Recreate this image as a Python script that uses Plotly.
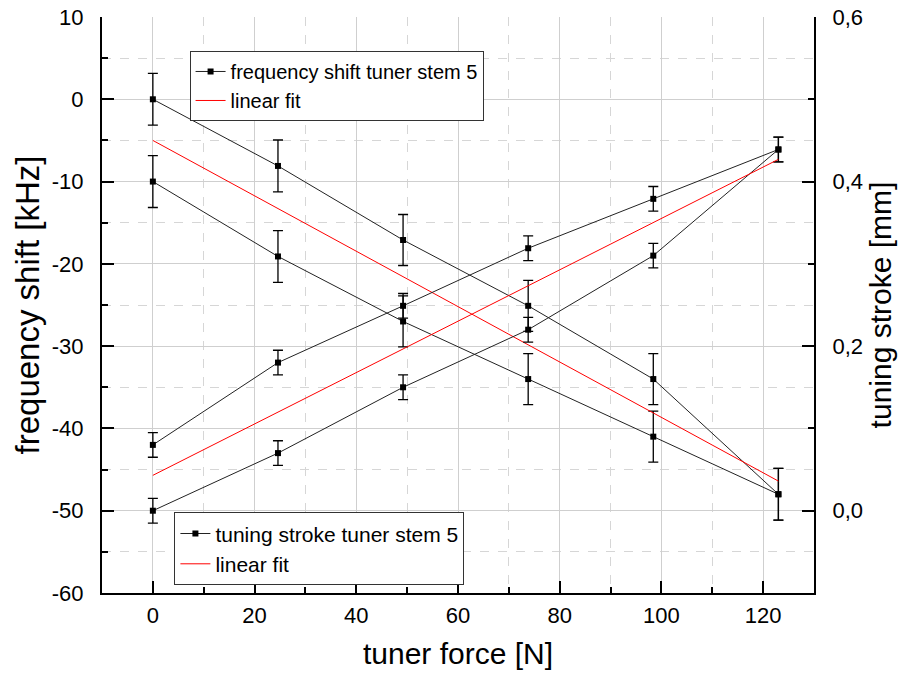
import plotly.graph_objects as go

# ---- data ----
force = [0, 24.6, 49.2, 73.8, 98.4, 123]
freq_a = [0.0, -8.1, -17.1, -25.1, -34.0, -48.0]
freq_b = [-10.0, -19.1, -27.0, -34.0, -41.0, -48.0]
freq_err = [3.15, 3.15, 3.1, 3.1, 3.1, 3.15]
stroke_c = [0.080, 0.180, 0.249, 0.319, 0.379, 0.439]
stroke_d = [0.000, 0.070, 0.150, 0.220, 0.310, 0.439]
stroke_err = [0.015, 0.015, 0.015, 0.015, 0.015, 0.015]
fit_x = [0, 123]
freq_fit = [-5.0, -46.4]
stroke_fit = [0.043, 0.427]

left_tickvals = [10, 0, -10, -20, -30, -40, -50, -60]
left_ticktext = ["10", "0", "-10", "-20", "-30", "-40", "-50", "-60"]
right_tickvals = [0.0, 0.2, 0.4, 0.6]
right_ticktext = ["0,0", "0,2", "0,4", "0,6"]

FONT = "Liberation Sans, Arial, sans-serif"
LINE = "#222222"

fig = go.Figure()

def data_trace(y, err, name, show, legend, yaxis):
    return go.Scatter(
        x=force, y=y, mode="lines+markers", name=name, showlegend=show,
        legend=legend, yaxis=yaxis,
        line=dict(color=LINE, width=1),
        marker=dict(symbol="square", size=6, color="black"),
        error_y=dict(type="data", array=err, visible=True, color="black",
                     thickness=1.3, width=5),
    )

fig.add_trace(data_trace(freq_a, freq_err, "frequency shift tuner stem 5", True, "legend", "y"))
fig.add_trace(data_trace(freq_b, freq_err, "frequency shift tuner stem 5", False, "legend", "y"))
fig.add_trace(go.Scatter(x=fit_x, y=freq_fit, mode="lines", name="linear fit",
                         legend="legend", yaxis="y",
                         line=dict(color="red", width=1)))
fig.add_trace(data_trace(stroke_c, stroke_err, "tuning stroke tuner stem 5", True, "legend2", "y2"))
fig.add_trace(data_trace(stroke_d, stroke_err, "tuning stroke tuner stem 5", False, "legend2", "y2"))
fig.add_trace(go.Scatter(x=fit_x, y=stroke_fit, mode="lines", name="linear fit",
                         legend="legend2", yaxis="y2",
                         line=dict(color="red", width=1)))

GRID = "#cfcfcf"
MINOR_GRID = "#d6d6d6"
TICKSIZE = 22

fig.update_layout(
    width=902, height=676,
    margin=dict(l=102, r=88, t=17, b=83, autoexpand=False),
    paper_bgcolor="white", plot_bgcolor="white",
    font=dict(family=FONT, color="black", size=20),
    xaxis=dict(
        range=[-10, 130], dtick=20, tick0=0,
        showline=True, linecolor="black", linewidth=2,
        ticks="inside", ticklen=12, tickwidth=2, tickcolor="black",
        showgrid=True, gridcolor=GRID, gridwidth=1,
        minor=dict(dtick=10, ticks="inside", ticklen=6, tickwidth=2, tickcolor="black",
                   showgrid=True, gridcolor=MINOR_GRID, griddash="dash", gridwidth=1),
        zeroline=False, ticklabelstandoff=2,
        tickfont=dict(size=TICKSIZE, family=FONT),
        title=dict(text="tuner force [N]", font=dict(size=30, family=FONT), standoff=16),
    ),
    xaxis2=dict(
        range=[-10, 130], dtick=20, tick0=0, overlaying="x", side="top", anchor="y",
        showline=True, linecolor="black", linewidth=2,
        ticks="inside", ticklen=12, tickwidth=2, tickcolor="black",
        showticklabels=False, showgrid=False, zeroline=False,
        minor=dict(dtick=10, ticks="inside", ticklen=6, tickwidth=2, tickcolor="black",
                   showgrid=False),
    ),
    yaxis=dict(
        range=[-60, 10], tickmode="array", tickvals=left_tickvals, ticktext=left_ticktext,
        showline=True, linecolor="black", linewidth=2,
        ticks="inside", ticklen=12, tickwidth=2, tickcolor="black",
        showgrid=True, gridcolor=GRID, gridwidth=1,
        minor=dict(tickmode="linear", tick0=0, dtick=5, ticks="inside", ticklen=6,
                   tickwidth=2, tickcolor="black",
                   showgrid=True, gridcolor=MINOR_GRID, griddash="dash", gridwidth=1),
        zeroline=False, ticklabelstandoff=12,
        tickfont=dict(size=TICKSIZE, family=FONT),
        title=dict(text="frequency shift [kHz]", font=dict(size=33, family=FONT), standoff=2),
    ),
    yaxis2=dict(
        range=[-0.1, 0.6], overlaying="y", side="right", anchor="x",
        tickmode="array", tickvals=right_tickvals, ticktext=right_ticktext,
        showline=True, linecolor="black", linewidth=2,
        ticks="inside", ticklen=12, tickwidth=2, tickcolor="black",
        showgrid=False, zeroline=False, ticklabelstandoff=12,
        minor=dict(tickmode="linear", tick0=0, dtick=0.1, ticks="inside", ticklen=6,
                   tickwidth=2, tickcolor="black", showgrid=False),
        tickfont=dict(size=TICKSIZE, family=FONT),
        title=dict(text="tuning stroke [mm]", font=dict(size=30, family=FONT), standoff=8),
    ),
    legend=dict(
        x=0.123, y=0.941, xanchor="left", yanchor="top",
        bgcolor="white", bordercolor="#333333", borderwidth=1,
        font=dict(size=20, family=FONT), tracegroupgap=0,
    ),
    legend2=dict(
        x=0.1017, y=0.140, xanchor="left", yanchor="top",
        bgcolor="white", bordercolor="#333333", borderwidth=1,
        font=dict(size=21, family=FONT), tracegroupgap=0,
    ),
)

fig.write_html("out.html")
